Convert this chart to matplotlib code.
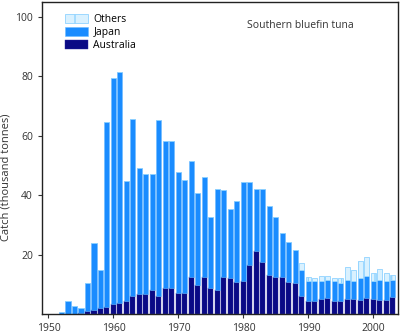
import matplotlib.pyplot as plt
import numpy as np

years = list(range(1952, 2004))
australia = [0.1, 0.2, 0.2, 0.3, 0.9, 1.5, 2.2, 2.3, 3.3, 3.7,
             4.5, 6.0, 6.8, 6.8, 8.0, 6.2, 8.7, 8.7, 7.1, 7.0,
             12.4, 9.7, 12.5, 8.8, 8.2, 12.4, 12.1, 10.7, 11.0, 16.7,
             21.4, 17.4, 13.1, 12.4, 12.4, 10.7, 10.4, 6.0, 4.3, 4.3,
             5.2, 5.3, 4.4, 4.3, 5.2, 5.2, 4.9, 5.5, 5.2, 4.9,
             4.7, 5.9]
japan = [0.6, 4.1, 2.5, 1.8, 9.5, 22.5, 12.6, 62.2, 76.2, 77.8,
         40.2, 59.8, 42.5, 40.5, 39.3, 59.1, 49.5, 49.5, 40.7, 38.2,
         39.2, 30.9, 33.6, 23.8, 33.9, 29.3, 23.3, 27.4, 33.5, 27.8,
         20.7, 24.7, 23.3, 20.2, 15.0, 13.7, 11.3, 9.0, 7.0, 6.7,
         6.1, 6.3, 6.6, 6.2, 6.3, 5.8, 7.4, 7.5, 6.0, 6.5,
         6.3, 5.5]
others = [0] * 37 + [2.2, 1.2, 1.0, 1.5, 1.4, 1.0, 1.5, 4.5, 3.8, 5.5,
                     6.2, 2.8, 3.8, 3.0, 1.8]

aus = np.array(australia)
jap = np.array(japan)

fig = plt.figure(figsize=(4, 3.36), dpi=100)
ax = fig.add_axes([0.105, 0.065, 0.89, 0.929])

w = 0.78
ax.bar(years, australia, width=w, color='#0a0a85', edgecolor='#2a2aa0', linewidth=0.3, label='Australia')
ax.bar(years, japan, width=w, bottom=aus, color='#1a8cff', edgecolor='#6cbcff', linewidth=0.4, label='Japan')
ax.bar(years, others, width=w, bottom=aus + jap, color='#d9f1ff', edgecolor='#8fd3ff',
       linewidth=0.6, hatch='|', label='Others')

ax.set_xlim(1949, 2003.8)
ax.set_ylim(0, 105)
ax.set_xticks([1950, 1960, 1970, 1980, 1990, 2000])
ax.set_yticks([20, 40, 60, 80, 100])
ax.tick_params(labelsize=7.5, length=3, colors='#333333')
for lab in ax.get_xticklabels() + ax.get_yticklabels():
    lab.set_family('Open Sans')
for s in ax.spines.values():
    s.set_linewidth(1.0)
    s.set_color('#222222')

ax.set_ylabel('Catch (thousand tonnes)', fontsize=8, family='Open Sans', color='#333333')
ax.yaxis.set_label_coords(-0.085, 0.44)

ax.text(0.725, 0.925, 'Southern bluefin tuna', transform=ax.transAxes, ha='center', va='center',
        fontsize=7.5, family='Open Sans', color='#333333')

h, l = ax.get_legend_handles_labels()
ax.legend(h[::-1], l[::-1], loc='upper left', bbox_to_anchor=(0.045, 0.985), frameon=False,
          prop={'family': 'Open Sans', 'size': 7.5}, handlelength=2.2, handleheight=0.9,
          labelspacing=0.2, handletextpad=0.5, borderaxespad=0.3)

fig.savefig('out.png', dpi=100)
